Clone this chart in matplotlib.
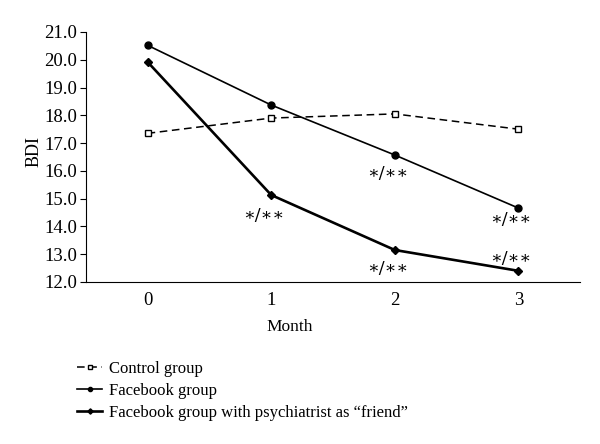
import matplotlib

matplotlib.use("Agg")

import matplotlib.pyplot as plt

plt.rcParams["font.family"] = ["Liberation Serif", "DejaVu Serif"]

months = [0, 1, 2, 3]
control = [17.35, 17.9, 18.05, 17.5]
facebook = [20.52, 18.37, 16.57, 14.66]
psychiatrist = [19.92, 15.13, 13.15, 12.4]
yticks = [12.0, 13.0, 14.0, 15.0, 16.0, 17.0, 18.0, 19.0, 20.0, 21.0]

# significance marks: (month, y value)
sig_marks = [(1, 14.38), (2, 15.9), (2, 12.5), (3, 14.25), (3, 12.83)]
sig_text = "\u2217/\u2217\u2217"

fig = plt.figure(figsize=(6, 4.44), dpi=100)
ax = fig.add_axes([0.143, 0.365, 0.824, 0.563])

ax.plot(months, control, color="black", lw=1.1, ls=(0, (5, 3)),
        marker="s", ms=4.5, mfc="white", mec="black", mew=1.0,
        label="Control group")
ax.plot(months, facebook, color="black", lw=1.2, marker="o", ms=5,
        label="Facebook group")
ax.plot(months, psychiatrist, color="black", lw=1.9, marker="D", ms=4.5,
        label="Facebook group with psychiatrist as \u201cfriend\u201d")

for m, y in sig_marks:
    ax.text(m - 0.06, y, sig_text, ha="center", va="center", fontsize=12.5,
            family=["DejaVu Serif"])

ax.set_xlim(-0.5, 3.5)
ax.set_ylim(12.0, 21.0)
ax.set_xticks(months)
ax.set_yticks(yticks)
ax.set_yticklabels([f"{v:.1f}" for v in yticks])
ax.tick_params(axis="x", length=0, labelsize=13.5, pad=7)
ax.tick_params(axis="y", length=4, labelsize=13.5, pad=2)
ax.spines["top"].set_visible(False)
ax.spines["right"].set_visible(False)
ax.set_xlabel("Month", fontsize=12.5)
ax.xaxis.set_label_coords(0.413, -0.15)
ax.set_ylabel("BDI", fontsize=13)
ax.yaxis.set_label_coords(-0.088, 0.52)

fig.legend(loc="upper left", bbox_to_anchor=(0.115, 0.205), frameon=False,
           fontsize=12, handlelength=1.5, handletextpad=0.4,
           labelspacing=0.35, borderpad=0, markerscale=0.6)

fig.savefig("out.png", dpi=100)
